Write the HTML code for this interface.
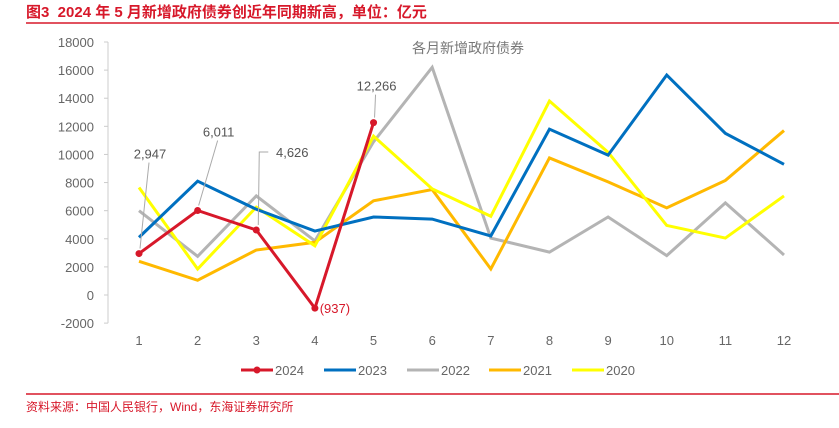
<!DOCTYPE html>
<html><head><meta charset="utf-8"><style>
body{margin:0;background:#fff;width:839px;height:423px;overflow:hidden;font-family:"Liberation Sans","Noto Sans CJK SC",sans-serif}
</style></head><body>
<svg id="c" width="839" height="423" xmlns="http://www.w3.org/2000/svg">
<text x="26" y="17" fill="#d7182a" font-size="15" font-weight="bold" font-family="Liberation Sans, Noto Sans CJK SC, sans-serif" xml:space="preserve">图3  2024 年 5 月新增政府债券创近年同期新高，单位：亿元</text>
<line x1="26" y1="23" x2="839" y2="23" stroke="#d7182a" stroke-width="1.5"/>
<text x="468" y="53" fill="#777" font-size="14" text-anchor="middle" font-family="Liberation Sans, Noto Sans CJK SC, sans-serif">各月新增政府债券</text>
<g id="axes"></g><g id="series"></g><g id="labels"></g>
<g font-size="13" fill="#666">
<g><line x1="241" y1="370" x2="273" y2="370" stroke="#d7182a" stroke-width="3"/><circle cx="257" cy="370" r="3.5" fill="#d7182a"/><text x="275" y="375">2024</text></g>
<g><line x1="324" y1="370" x2="356" y2="370" stroke="#0070c0" stroke-width="3"/><text x="358" y="375">2023</text></g>
<g><line x1="407" y1="370" x2="439" y2="370" stroke="#b4b4b4" stroke-width="3"/><text x="441" y="375">2022</text></g>
<g><line x1="489" y1="370" x2="521" y2="370" stroke="#ffb900" stroke-width="3"/><text x="523" y="375">2021</text></g>
<g><line x1="572" y1="370" x2="604" y2="370" stroke="#ffff00" stroke-width="3"/><text x="606" y="375">2020</text></g>
</g>
<line x1="26" y1="394" x2="839" y2="394" stroke="#d7182a" stroke-width="1.5"/>
<text x="26" y="411" fill="#d7182a" font-size="12" font-family="Liberation Sans, Noto Sans CJK SC, sans-serif">资料来源：中国人民银行，Wind，东海证券研究所</text>
</svg>
<script>
const months=[1,2,3,4,5,6,7,8,9,10,11,12];
const yTicks=[18000,16000,14000,12000,10000,8000,6000,4000,2000,0,-2000];
const s2024=[2947,6011,4626,-937,12266];
const s2023=[4100,8100,6100,4550,5550,5400,4200,11800,9950,15650,11500,9300];
const s2022=[6000,2750,7050,3850,10900,16200,4050,3050,5550,2800,6550,2850];
const s2021=[2400,1050,3200,3750,6700,7500,1850,9750,8050,6200,8150,11700];
const s2020=[7650,1850,6250,3500,11300,7550,5600,13800,10150,4950,4050,7050];
const labels2024=["2,947","6,011","4,626","(937)","12,266"];
const NS="http://www.w3.org/2000/svg";
const x=m=>139+(m-1)*(784-139)/11;
const y=v=>295-v*(295-42)/18000;
function el(t,a,p){const e=document.createElementNS(NS,t);for(const k in a)e.setAttribute(k,a[k]);p.appendChild(e);return e;}
const ax=document.getElementById('axes');
const yl=el('line',{x1:108,y1:y(18000),x2:108,y2:y(-2000),stroke:'#ccc'},ax);


yTicks.forEach(v=>{
 const t=el('text',{x:94,y:y(v)+5,'text-anchor':'end','font-size':13,fill:'#666'},ax);t.textContent=v;
 
 
 const tk=el('line',{x1:104,y1:y(v),x2:108,y2:y(v),stroke:'#ccc'},ax);
 
 
});
months.forEach(m=>{
 const t=el('text',{x:x(m),y:345,'text-anchor':'middle','font-size':13,fill:'#666'},ax);t.textContent=m;
 
 
});
const sg=document.getElementById('series');
function line(d,c,n){
 const p=el('polyline',{points:d.map((v,i)=>x(months[i])+','+y(v)).join(' '),fill:'none',stroke:c,'stroke-width':3,'stroke-linejoin':'miter'},sg);
 
 
}
line(s2022,'#b4b4b4','line-2022');
line(s2021,'#ffb900','line-2021');
line(s2020,'#ffff00','line-2020');
line(s2023,'#0070c0','line-2023');
line(s2024,'#d7182a','line-2024');
s2024.forEach((v,i)=>{
 const c=el('circle',{cx:x(months[i]),cy:y(v),r:3.5,fill:'#d7182a'},sg);
 
 
});
const lg=document.getElementById('labels');
// label offsets relative to point (centre x, baseline y)
const lox=[11,21,36,20,3], loy=[-95,-74,-73,5,-32];
s2024.forEach((v,i)=>{
 const px=x(months[i]),py=y(v);
 const neg=v<0;
 const t=el('text',{x:px+lox[i],y:py+loy[i],'text-anchor':'middle','font-size':13,fill:neg?'#d7182a':'#555'},lg);
 t.textContent=labels2024[i];
 
 
 if(!neg){
  let pts;
  if(i==2) pts=`${px+2},${py-5} ${px+3},${py+loy[i]-5} ${px+12},${py+loy[i]-5}`;
  else pts=`${px+1},${py-5} ${px+lox[i]-1},${py+loy[i]+4}`;
  const l=el('polyline',{points:pts,fill:'none',stroke:'#aaa','stroke-width':1},lg);
  
  
 }
});
</script>
</body></html>
